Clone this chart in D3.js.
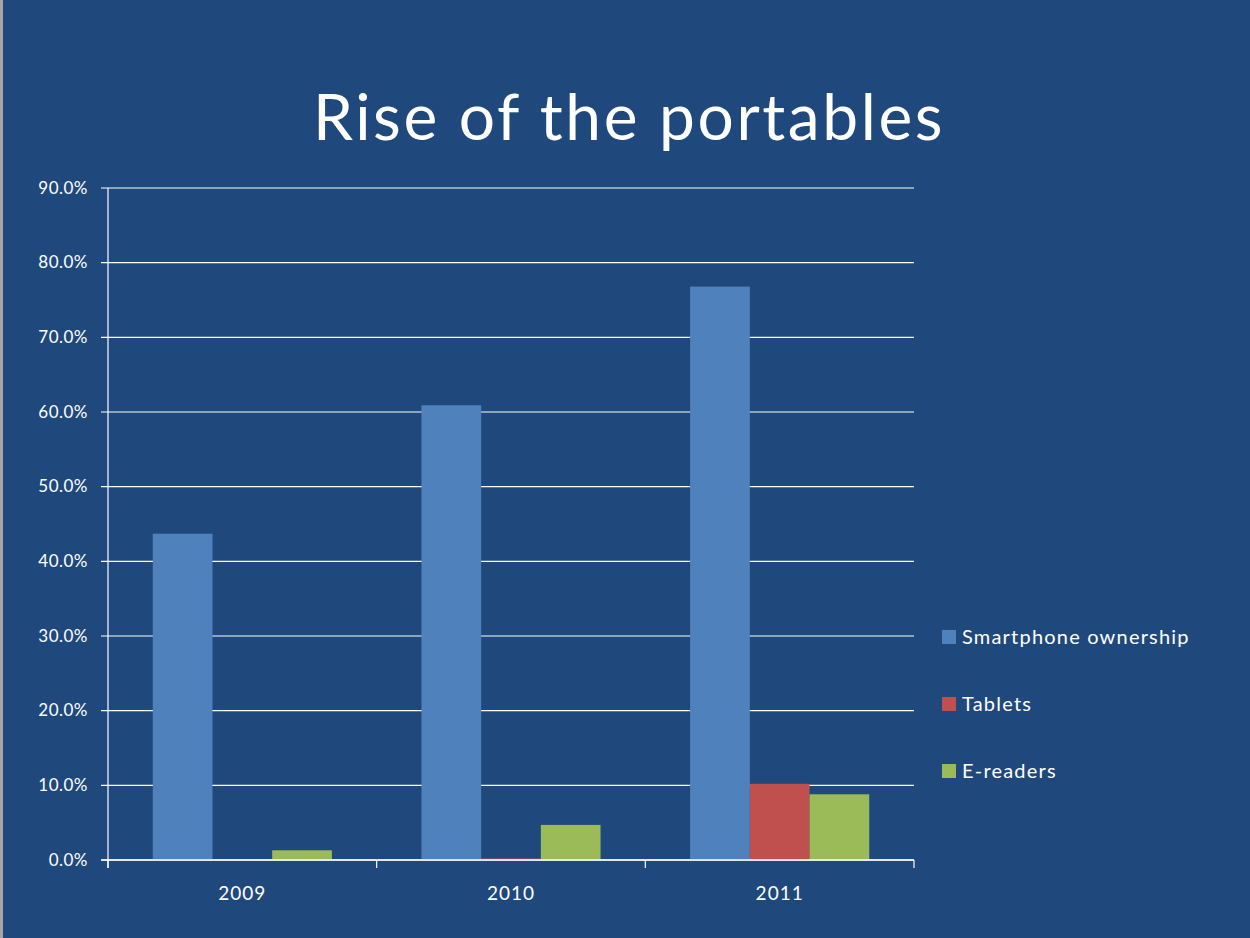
<!DOCTYPE html>
<html>
<head>
<meta charset="utf-8">
<script src="https://cdn.jsdelivr.net/npm/d3@7"></script>
<style>
  html, body { margin: 0; padding: 0; background: #1f497d; }
  svg { display: block; font-family: Lato, "Open Sans", sans-serif; }
</style>
</head>
<body>
<svg id="chart" width="1250" height="938"></svg>
<script>
// chart data
var years = ["2009", "2010", "2011"];
var seriesNames = ["Smartphone ownership", "Tablets", "E-readers"];
var smartphone = [43.7, 60.9, 76.8];
var tablets = [0, 0.2, 10.2];
var ereaders = [1.3, 4.7, 8.8];
var yTicks = [0, 10, 20, 30, 40, 50, 60, 70, 80, 90];
var colors = ["#4f81bd", "#c0504d", "#9bbb59"];

var seriesValues = [smartphone, tablets, ereaders];

var svg = d3.select("#chart");

svg.append("rect")
    .attr("width", 1250).attr("height", 938)
    .style("fill", "#1f497d");
svg.append("rect")
    .attr("x", 0).attr("y", 0).attr("width", 3).attr("height", 938)
    .style("fill", "#a6a6a6");

svg.append("text")
    .attr("x", 629)
    .attr("y", 140)
    .attr("text-anchor", "middle")
    .style("font-size", "64px")
    .style("letter-spacing", "2.6px")
    .style("fill", "#ffffff")
    .text("Rise of the portables");

var plotLeft = 108, plotRight = 914, plotTop = 188, plotBottom = 860;

var x = d3.scaleBand().domain(years).range([plotLeft, plotRight]).paddingInner(0).paddingOuter(0);
var xs = d3.scaleBand().domain(seriesNames).range([0, x.bandwidth()]).paddingInner(0).paddingOuter(0.75);
var y = d3.scaleLinear().domain([0, 90]).range([plotBottom, plotTop]);

// gridlines
svg.append("g")
    .selectAll("line")
    .data(yTicks)
    .enter().append("line")
    .attr("x1", plotLeft - 7).attr("x2", plotRight)
    .attr("y1", function(d){ return y(d); })
    .attr("y2", function(d){ return y(d); })
    .style("stroke", "#ffffff")
    .style("stroke-width", 1.2);

// y labels
svg.append("g")
    .selectAll("text")
    .data(yTicks)
    .enter().append("text")
    .attr("x", 88)
    .attr("y", function(d){ return y(d) + 5.5; })
    .attr("text-anchor", "end")
    .style("font-size", "17px")
    .style("letter-spacing", "0.5px")
    .style("fill", "#ffffff")
    .text(function(d){ return d.toFixed(1) + "%"; });

// bars
var groups = svg.append("g")
    .selectAll("g")
    .data(years)
    .enter().append("g")
    .attr("transform", function(d){ return "translate(" + x(d) + ",0)"; });

groups.selectAll("rect")
    .data(function(d, i){
        return seriesNames.map(function(s, j){ return {name: s, value: seriesValues[j][i], idx: j}; });
    })
    .enter().append("rect")
    .attr("x", function(d){ return xs(d.name); })
    .attr("width", xs.bandwidth())
    .attr("y", function(d){ return y(d.value); })
    .attr("height", function(d){ return y(0) - y(d.value); })
    .style("fill", function(d){ return colors[d.idx]; });

// axis lines
svg.append("line")
    .attr("x1", plotLeft).attr("x2", plotLeft)
    .attr("y1", plotTop).attr("y2", plotBottom + 8)
    .style("stroke", "#ffffff").style("stroke-width", 1.2);
svg.append("line")
    .attr("x1", plotLeft - 7).attr("x2", plotRight)
    .attr("y1", plotBottom).attr("y2", plotBottom)
    .style("stroke", "#ffffff").style("stroke-width", 1.5);

var xTickPos = years.map(function(d){ return x(d); }).concat([plotRight]);
svg.append("g")
    .selectAll("line")
    .data(xTickPos)
    .enter().append("line")
    .attr("x1", function(d){ return d; }).attr("x2", function(d){ return d; })
    .attr("y1", plotBottom).attr("y2", plotBottom + 8)
    .style("stroke", "#ffffff").style("stroke-width", 1.2);

svg.append("g")
    .selectAll("text")
    .data(years)
    .enter().append("text")
    .attr("x", function(d){ return x(d) + x.bandwidth() / 2; })
    .attr("y", 900)
    .attr("text-anchor", "middle")
    .style("font-size", "19px")
    .style("letter-spacing", "1px")
    .style("fill", "#ffffff")
    .text(function(d){ return d; });

// legend
var legend = svg.append("g")
    .selectAll("g")
    .data(seriesNames)
    .enter().append("g")
    .attr("transform", function(d, i){ return "translate(942," + (637 + i * 67) + ")"; });
legend.append("rect")
    .attr("x", 0).attr("y", -7)
    .attr("width", 14).attr("height", 14)
    .style("fill", function(d, i){ return colors[i]; });
legend.append("text")
    .attr("x", 20).attr("y", 7)
    .style("font-size", "20px")
    .style("letter-spacing", "1.2px")
    .style("fill", "#ffffff")
    .text(function(d){ return d; });
</script>
</body>
</html>
